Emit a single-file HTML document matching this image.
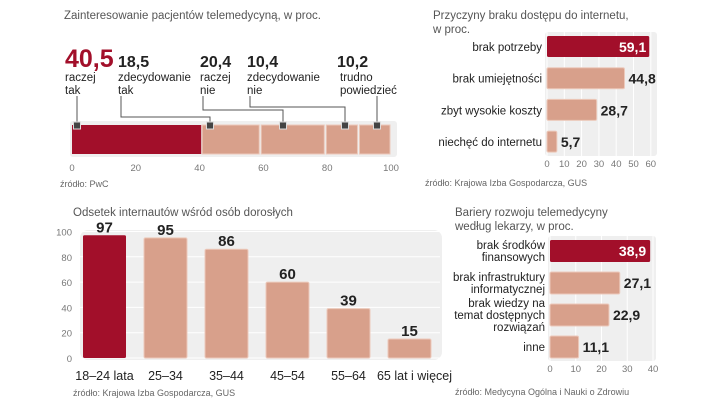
<!DOCTYPE html>
<html><head><meta charset="utf-8">
<style>
body{margin:0;background:#fff;width:720px;height:405px;overflow:hidden;font-family:"Liberation Sans",sans-serif}
svg text{font-family:"Liberation Sans",sans-serif}
.t{fill:#555;font-size:11.5px}
.s{fill:#666;font-size:9px}
.k{fill:#777;font-size:9.5px}
.l{fill:#222;font-size:11.5px}
.v{fill:#222;font-size:14px;font-weight:bold}
</style></head><body>
<svg id="c" width="720" height="405" xmlns="http://www.w3.org/2000/svg">
<text x="64" y="19" class="t">Zainteresowanie pacjentów telemedycyną, w proc.</text>
<text x="60" y="187" class="s">źródło: PwC</text>
<text x="433" y="19" class="t">Przyczyny braku dostępu do internetu,</text>
<text x="433" y="33" class="t">w proc.</text>
<text x="425" y="186" class="s">źródło: Krajowa Izba Gospodarcza, GUS</text>
<text x="73" y="216" class="t">Odsetek internautów wśród osób dorosłych</text>
<text x="73" y="396" class="s">źródło: Krajowa Izba Gospodarcza, GUS</text>
<text x="455" y="216" class="t">Bariery rozwoju telemedycyny</text>
<text x="455" y="230" class="t">według lekarzy, w proc.</text>
<text x="455" y="395" class="s">źródło: Medycyna Ogólna i Nauki o Zdrowiu</text>
<g id="g1"></g><g id="g2"></g><g id="g3"></g><g id="g4"></g>
</svg>
<script>
var NS="http://www.w3.org/2000/svg";
function mk(p,tag,a,txt){var e=document.createElementNS(NS,tag);for(var k in a)e.setAttribute(k,a[k]);if(txt!==undefined)e.textContent=txt;p.appendChild(e);return e;}
var RED="#a20f2a",PINK="#d8a08b",PB="#ecc9bb",PANEL="#efefef";

// Chart 1
var c1Values=[40.5,18.5,20.4,10.4,10.2];
var c1Labels=[["raczej","tak"],["zdecydowanie","tak"],["raczej","nie"],["zdecydowanie","nie"],["trudno","powiedzieć"]];
var c1Ticks=[0,20,40,60,80,100];
// Chart 2
var c2Cats=["brak potrzeby","brak umiejętności","zbyt wysokie koszty","niechęć do internetu"];
var c2Values=[59.1,44.8,28.7,5.7];
var c2Ticks=[0,10,20,30,40,50,60];
// Chart 3
var c3Cats=["18–24 lata","25–34","35–44","45–54","55–64","65 lat i więcej"];
var c3Values=[97,95,86,60,39,15];
var c3Ticks=[0,20,40,60,80,100];
// Chart 4
var c4Cats=[["brak środków","finansowych"],["brak infrastruktury","informatycznej"],["brak wiedzy na","temat  dostępnych","rozwiązań"],["inne"]];
var c4Values=[38.9,27.1,22.9,11.1];
var c4Ticks=[0,10,20,30,40];

// chart1
(function(){
var g=document.getElementById('g1');
var x=function(v){return 72+v*3.19;};
var p=mk(g,'rect',{x:70,y:121,width:327,height:36,rx:3,fill:PANEL});

c1Ticks.forEach(function(t){var e=mk(g,'text',{x:x(t),y:171,'text-anchor':'middle',class:'k'},t);
});
var cum=0;
var labX=[65,118,200,247,337];
var elbowY=[null,117,110,107,null];
var markX=[77,210,283,345,377];
c1Values.forEach(function(v,i){
 var x0=x(cum),x1=x(cum+v);
 var r=mk(g,'rect',{x:x0+(i?1:0),y:125,width:x1-x0-(i?2:0),height:29,fill:i?PINK:RED,stroke:i?PB:'none','stroke-width':1});
 
 var mx=markX[i];
 var lx=labX[i]+3;
 var pts;
 if(i==0||i==4){lx=mx;pts=lx+',96 '+lx+',125';}
 else pts=lx+',96 '+lx+','+elbowY[i]+' '+mx+','+elbowY[i]+' '+mx+',125';
 var pl=mk(g,'polyline',{points:pts,fill:'none',stroke:'#555','stroke-width':1});
 
 var m=mk(g,'rect',{x:mx-3.5,y:122,width:7,height:7,fill:'#444',stroke:'#ddd','stroke-width':1});
 
 var tv=mk(g,'text',{x:labX[i],y:67,fill:i?'#222':RED,'font-size':i?16:25,'font-weight':'bold'},String(v).replace('.',','));
 
 c1Labels[i].forEach(function(s,j){var e=mk(g,'text',{x:labX[i]+(i==4?3:0),y:81+j*13,class:'l'},s);
 });
 cum+=v;
});
})();

// chart2
(function(){
var g=document.getElementById('g2');
var x=function(v){return 547+v*1.73;};
var p=mk(g,'rect',{x:545,y:32,width:112,height:124,rx:3,fill:PANEL});

c2Ticks.forEach(function(t){
 var l=mk(g,'line',{x1:x(t),x2:x(t),y1:32,y2:156,stroke:'#fff','stroke-width':1});
 
 var e=mk(g,'text',{x:x(t),y:167,'text-anchor':'middle',class:'k'},t);
 });
c2Values.forEach(function(v,i){
 var y=36+i*31.7;
 var r=mk(g,'rect',{x:x(0),y:y,width:x(v)-x(0),height:21,rx:1.5,fill:i?PINK:RED,stroke:i?PB:'none'});
 
 var e=mk(g,'text',{x:i?x(v)+4:x(v)-3,y:y+16,'text-anchor':i?'start':'end',class:'v'},String(v).replace('.',','));
 if(!i)e.setAttribute('style','fill:#fff');
 
 var c=mk(g,'text',{x:542,y:y+15,'text-anchor':'end',class:'l'},c2Cats[i]);
 
});
})();

// chart3
(function(){
var g=document.getElementById('g3');
var y=function(v){return 358-v*1.265;};
var p=mk(g,'rect',{x:80,y:230,width:362,height:130,rx:8,fill:PANEL});

c3Ticks.forEach(function(t){
 var l=mk(g,'line',{x1:80,x2:440,y1:y(t),y2:y(t),stroke:'#fff'});
 
 var e=mk(g,'text',{x:72,y:y(t)+4,'text-anchor':'end',class:'k'},t);
 });
c3Values.forEach(function(v,i){
 var x0=83+i*61;
 var r=mk(g,'rect',{x:x0,y:y(v),width:43,height:y(0)-y(v),rx:1.5,fill:i?PINK:RED,stroke:i?PB:'none'});
 
 var e=mk(g,'text',{x:x0+21.5,y:y(v)-3,'text-anchor':'middle',class:'v'},v);
 e.setAttribute('style','font-size:15px');
 
 var c=mk(g,'text',{x:x0+21.5+(i==5?5:0),y:380,'text-anchor':'middle',fill:'#222','font-size':12.5},c3Cats[i]);
 
});
})();

// chart4
(function(){
var g=document.getElementById('g4');
var x=function(v){return 550+v*2.575;};
var p=mk(g,'rect',{x:548,y:236,width:108,height:125,rx:3,fill:PANEL});

c4Ticks.forEach(function(t){
 var l=mk(g,'line',{x1:x(t),x2:x(t),y1:236,y2:361,stroke:'#fff'});
 
 var e=mk(g,'text',{x:x(t),y:372,'text-anchor':'middle',class:'k'},t);
 });
c4Values.forEach(function(v,i){
 var yy=240+i*32;
 var r=mk(g,'rect',{x:x(0),y:yy,width:x(v)-x(0),height:22,rx:1.5,fill:i?PINK:RED,stroke:i?PB:'none'});
 
 var e=mk(g,'text',{x:i?x(v)+4:x(v)-4,y:yy+16,'text-anchor':i?'start':'end',class:'v'},String(v).replace('.',','));
 if(!i)e.setAttribute('style','fill:#fff');
 
 var lines=c4Cats[i],n=lines.length;
 lines.forEach(function(s,j){
  var c=mk(g,'text',{x:545,y:yy+11-(n-1)*6+j*12+4,'text-anchor':'end',class:'l'},s);
  });
});
})();
</script>
</body></html>
